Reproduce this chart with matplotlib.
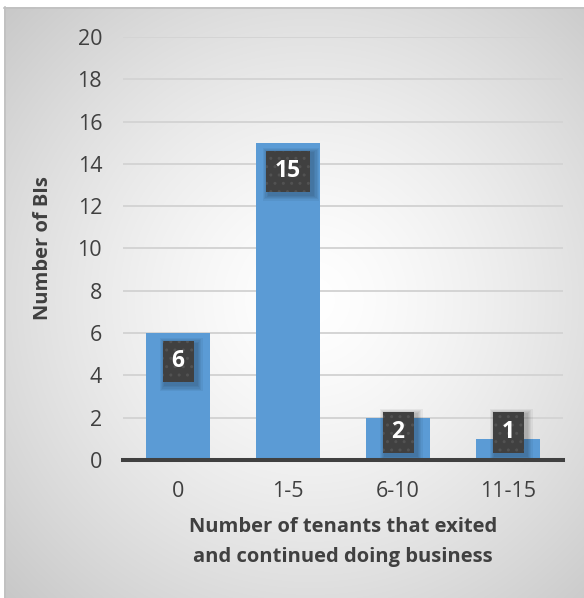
import numpy as np
import matplotlib
matplotlib.use("Agg")
import matplotlib.pyplot as plt
from matplotlib.patches import Rectangle

# tenants that exited and continued doing business, grouped
categories = ["0", "1-5", "6-10", "11-15"]
bi_counts = [6, 15, 2, 1]

plt.rcParams['font.family'] = ['Open Sans', 'DejaVu Sans']
text_col = '#404040'
bar_col = '#5B9BD5'

W, H = 584, 598
fig = plt.figure(figsize=(W / 100, H / 100), dpi=100)
fig.patch.set_facecolor('white')

# radial grey backdrop behind the chart
bg = fig.add_axes([0, 0, 1, 1], zorder=-10)
yy, xx = np.mgrid[0:H, 0:W]
r = np.hypot(xx - 310, yy - 300) / 430.0
shade = 1.0 - 0.22 * np.clip(r, 0, 1.2) ** 1.4
img = np.dstack([shade, shade, shade])
img[(xx < 4) | (yy < 7)] = 1.0
bg.imshow(img, extent=[0, W, H, 0], interpolation='bilinear', aspect='auto')
bg.plot([4.5, 4.5], [7, H], color='#c0c0c0', lw=1.2)
bg.plot([4, W], [7.5, 7.5], color='#c0c0c0', lw=1.2)
bg.set_xlim(0, W)
bg.set_ylim(H, 0)
bg.axis('off')

ax = fig.add_axes([123 / W, 1 - 460 / H, 440 / W, 423 / H])
ax.set_facecolor('none')

x = np.arange(len(categories))
ax.bar(x, bi_counts, width=0.58, color=bar_col, zorder=3)

ax.set_xlim(-0.5, len(categories) - 0.5)
ax.set_ylim(0, 20)
ax.set_yticks(range(0, 21, 2))
ax.set_xticks(x)
ax.set_xticklabels(categories)
ax.yaxis.grid(True, color='#d4d4d4', lw=1.4, zorder=0)
ax.set_axisbelow(True)
for s in ['top', 'right', 'left']:
    ax.spines[s].set_visible(False)
ax.spines['bottom'].set_color(text_col)
ax.spines['bottom'].set_linewidth(2.9)
ax.spines['bottom'].set_zorder(4)
ax.tick_params(axis='both', length=0, labelsize=15.5, colors=text_col)
ax.tick_params(axis='y', pad=15)
ax.tick_params(axis='x', pad=15)

# value labels in dark dotted boxes near the top of each bar
px_x = 4 / 440   # data units per pixel, x
px_y = 20 / 423  # data units per pixel, y
for xi, v in zip(x, bi_counts):
    label = str(v)
    yc = max(v - 1.34, 1.32)
    bw = (18 + 13 * len(label)) * px_x
    bh = 41 * px_y
    x0, y0 = xi - bw / 2, yc - bh / 2
    # soft drop shadow, a few translucent layers
    for grow in range(5, 0, -1):
        g = grow * 1.2
        ax.add_patch(Rectangle((x0 + (3 - g) * px_x, y0 + (-3 - g) * px_y),
                               bw + 2 * g * px_x, bh + 2 * g * px_y,
                               facecolor='black', alpha=0.05, linewidth=0, zorder=4))
    ax.add_patch(Rectangle((x0, y0), bw, bh, facecolor=text_col,
                           edgecolor='#525252', linewidth=0, hatch='..', zorder=5))
    ax.text(xi, yc, label, ha='center', va='center', fontsize=16.5,
            fontweight='bold', color='white', zorder=6)

ax.set_ylabel("Number of BIs", fontsize=14.5, fontweight='bold', color=text_col)
ax.yaxis.set_label_coords((53 - 123) / 440, 0.5)

fig.text(343 / W, 1 - 542 / H, "Number of tenants that exited\nand continued doing business",
         ha='center', va='center', fontsize=14.5, fontweight='bold', color=text_col,
         linespacing=1.62)

fig.savefig('out.png', dpi=100)
